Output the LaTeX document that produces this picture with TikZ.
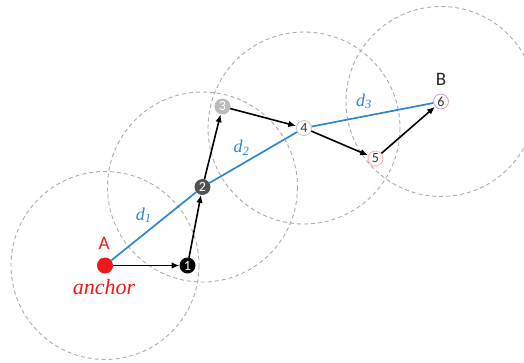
\documentclass[tikz,border=0pt]{standalone}
\usepackage{fontspec}
\setmainfont{Carlito}
\newfontfamily\labelserif{Liberation Serif}
\usetikzlibrary{arrows.meta}
\definecolor{pathblue}{HTML}{2F86CF}
\definecolor{ringgray}{HTML}{ABABAB}
\definecolor{anchorred}{HTML}{F01818}

\begin{document}
\begin{tikzpicture}[x=1pt,y=-1pt,
  font=\fontsize{19}{21}\selectfont,
  pt/.style={circle,draw,line width=0.9pt,inner sep=0pt,minimum size=15pt,font=\fontsize{14}{15}\selectfont},
  ring/.style={ringgray,line width=0.9pt,dash pattern=on 4pt off 3pt},
  arr/.style={-{Latex[length=8pt,width=6.5pt]},line width=1.6pt},
  hop/.style={pathblue,line width=1.7pt},
  dl/.style={pathblue,font=\labelserif\itshape\fontsize{18}{20}\selectfont,inner sep=0pt}
]
\useasboundingbox (0,0) rectangle (524,362);
% points
\node[circle,fill=anchorred,inner sep=0pt,minimum size=16pt] (A) at (105,265.5) {};
\node[pt,fill=black,text=white] (p1) at (187.5,265.5) {1};
\node[pt,fill=black!68,draw=black!68,text=white] (p2) at (202.5,187) {2};
\node[pt,fill=black!27,draw=black!27,text=white] (p3) at (222.5,106.5) {3};
\node[pt,fill=white,draw=black!22,text=black!80] (p4) at (304,128) {4};
\node[pt,fill=white,draw=red!30,text=black!80] (p5) at (375.5,158.5) {5};
\node[pt,fill=white,draw=violet!35,text=black!80] (p6) at (441,101.5) {6};
% ranges
\draw[ring] (A) circle[radius=94];
\draw[ring] (p2) circle[radius=95];
\draw[ring] (p4) circle[radius=96];
\draw[ring] (p6) circle[radius=95];
% labels
\node[text=anchorred] (la) at (104,243) {A};
\node[text=anchorred,font=\labelserif\itshape\fontsize{22}{24}\selectfont] (lanchor) at (104,287) {anchor};
\node[text=black!85] (lb) at (441,79) {B};
% hops
\draw[hop] (A) -- node[dl,pos=0.5,xshift=-10pt,yshift=11pt] {d\textsubscript{1}} (p2);
\draw[hop] (p2) -- node[dl,pos=0.4,xshift=-3pt,yshift=15pt] {d\textsubscript{2}} (p4);
\draw[hop] (p4) -- node[dl,pos=0.43,yshift=15pt] {d\textsubscript{3}} (p6);
% walk
\draw[arr] (A) -- (p1);
\draw[arr] (p1) -- (p2);
\draw[arr] (p2) -- (p3);
\draw[arr] (p3) -- (p4);
\draw[arr] (p4) -- (p5);
\draw[arr] (p5) -- (p6);
\end{tikzpicture}
\end{document}
